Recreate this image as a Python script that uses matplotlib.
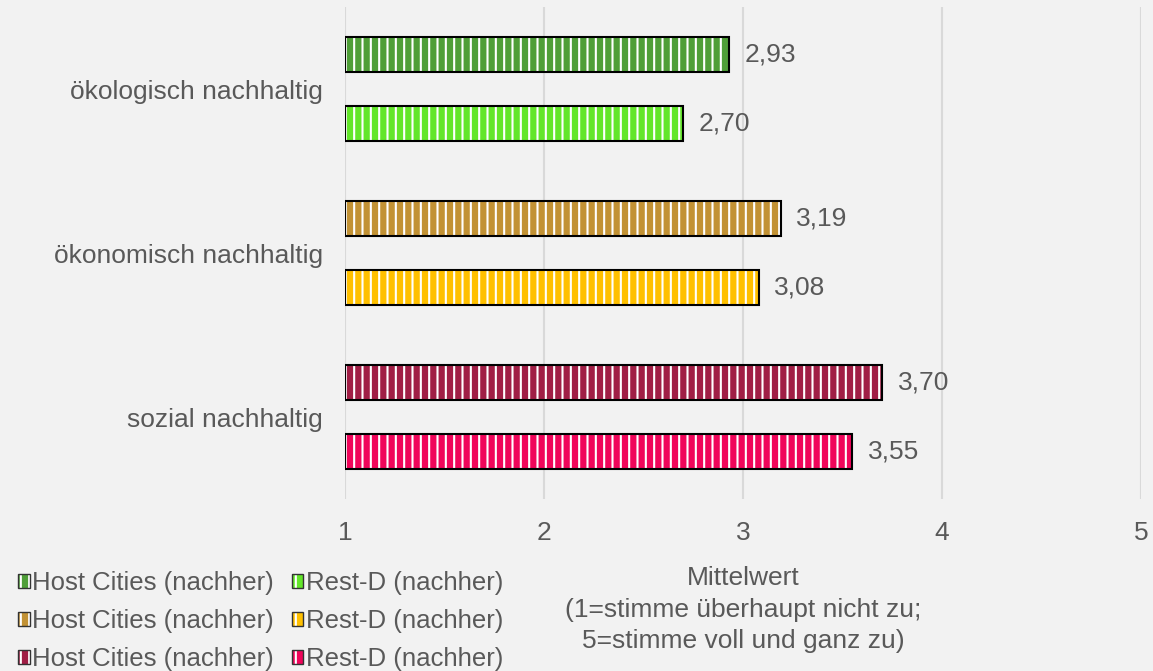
import matplotlib.pyplot as plt
from matplotlib.patches import Patch

plt.rcParams['font.family'] = ['Liberation Sans', 'DejaVu Sans']
plt.rcParams['hatch.linewidth'] = 1.5

# Daten
kategorien = ["ökologisch nachhaltig", "ökonomisch nachhaltig", "sozial nachhaltig"]
host_cities = [2.93, 3.19, 3.70]
rest_d = [2.70, 3.08, 3.55]
legende_host = ["Host Cities (nachher)"] * 3
legende_rest = ["Rest-D (nachher)"] * 3

farben_host = ["#4f9e38", "#c29235", "#a01e45"]
farben_rest = ["#63e62a", "#ffc000", "#f0055a"]

textfarbe = "#595959"
hintergrund = "#f2f2f2"
fs = 19

W, H = 1153, 671
fig = plt.figure(figsize=(W / 100, H / 100), dpi=100, facecolor=hintergrund)
ax = fig.add_axes([345 / W, 1 - 499 / H, (1141 - 345) / W, (499 - 7) / H])
ax.set_facecolor(hintergrund)

y = list(range(len(kategorien)))
off = 0.213
h = 0.213
y_host = [v - off for v in y]
y_rest = [v + off for v in y]


def balken(ypos, werte, farben):
    breiten = [w - 1 for w in werte]
    # Füllung mit weißen senkrechten Streifen
    ax.barh(ypos, breiten, left=1, height=h, color=farben, edgecolor="white",
            hatch="||", linewidth=0, zorder=3)
    # schwarzer Rahmen
    rahmen = ax.barh(ypos, breiten, left=1, height=h, fill=False,
                     edgecolor="black", linewidth=1.5, zorder=4)
    ax.bar_label(rahmen, labels=[f"{w:.2f}".replace(".", ",") for w in werte],
                 padding=11, fontsize=fs, color=textfarbe)


balken(y_host, host_cities, farben_host)
balken(y_rest, rest_d, farben_rest)

ax.set_xlim(1, 5)
ax.set_ylim(len(kategorien) - 0.5, -0.5)
ax.set_xticks([1, 2, 3, 4, 5])
ax.set_xticklabels(["1", "2", "3", "4", "5"])
ax.set_yticks(y)
ax.set_yticklabels(kategorien)
ax.tick_params(axis="both", length=0, labelsize=fs, labelcolor=textfarbe)
ax.tick_params(axis="y", pad=16)
ax.tick_params(axis="x", pad=16)
ax.grid(axis="x", color="#d9d9d9", linewidth=1.5, zorder=0)
ax.set_axisbelow(True)
for s in ax.spines.values():
    s.set_visible(False)

ax.set_xlabel("Mittelwert\n(1=stimme überhaupt nicht zu;\n5=stimme voll und ganz zu)",
              fontsize=fs, color=textfarbe, labelpad=15, linespacing=1.4)

# Legende: Spaltenweise gefüllt -> erst Host Cities, dann Rest-D
handles = []
labels = []
for farben, namen in ((farben_host, legende_host), (farben_rest, legende_rest)):
    for c, n in zip(farben, namen):
        handles.append((Patch(facecolor=c, edgecolor="white", hatch="||", linewidth=0),
                        Patch(fill=False, edgecolor="#333333", linewidth=1)))
        labels.append(n)

leg = fig.legend(handles, labels, ncol=2, loc="upper left",
                 bbox_to_anchor=(0.0, 1 - 553 / H), frameon=False,
                 fontsize=18.5, labelcolor=textfarbe,
                 handlelength=0.45, handleheight=0.45, handletextpad=0.1,
                 columnspacing=0.7, labelspacing=0.55, borderaxespad=0.3)

fig.savefig("out.png", dpi=100, facecolor=hintergrund)
